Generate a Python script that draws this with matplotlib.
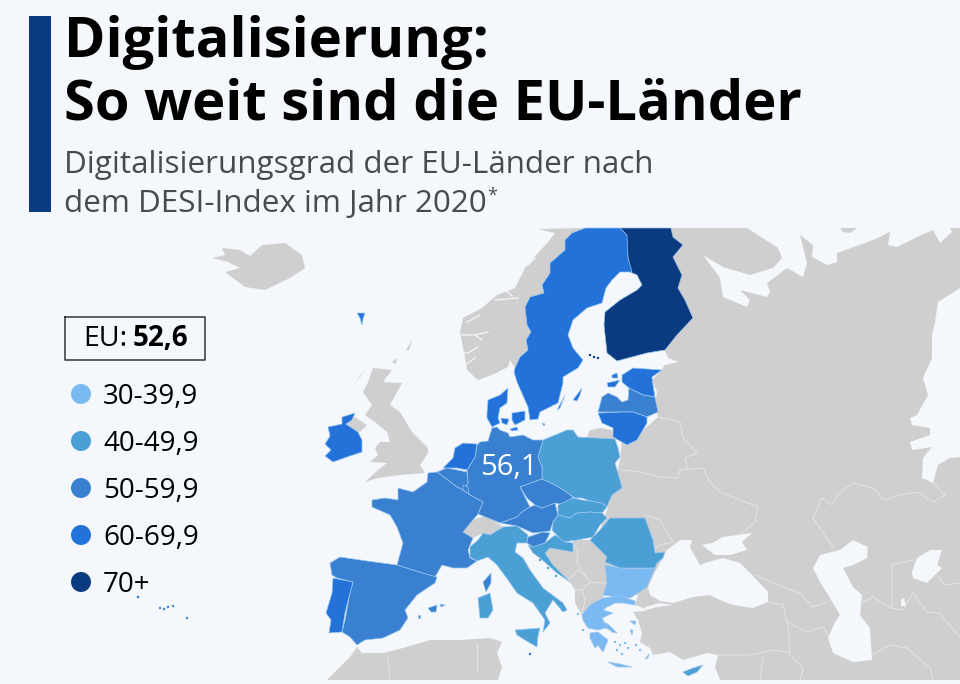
import matplotlib
matplotlib.use('Agg')
import matplotlib.pyplot as plt

BG = '#f4f8fc'
GRAY = '#cfcfcf'
GRAY_LINE = '#e2e4e6'
EU_LINE = '#9cc6ee'

# legend
bin_labels = ['30-39,9', '40-49,9', '50-59,9', '60-69,9', '70+']
bin_lower = [30, 40, 50, 60, 70]
bin_colors = ['#7ab9f1', '#4a9fd5', '#3a80d0', '#2272d9', '#0a3a80']

# DESI values, only Germany and the EU mean are printed, the rest sit inside the visible class
eu_mean = '52,6'
de_label = '56,1'
desi = {'FI': 72.3, 'SE': 69.7, 'DK': 69.1, 'NL': 67.7, 'IE': 61.8, 'EE': 61.1, 'LT': 60.5, 'PT': 60.2, 'MT': 62.7,
        'DE': 56.1, 'FR': 52.2, 'ES': 57.5, 'BE': 58.7, 'LU': 56.0, 'AT': 54.3, 'CZ': 50.8, 'LV': 50.7, 'SI': 51.2,
        'PL': 45.0, 'IT': 43.6, 'RO': 40.0, 'HU': 47.5, 'SK': 45.2, 'HR': 47.5, 'CY': 44.0, 'GR': 37.3, 'BG': 36.4}

# outlines, in pixels of the map image
fi = [(620, 228), (671, 228), (673, 237), (683, 245), (673, 257), (682, 275), (678, 288), (685, 300), (693, 318), (677, 335),
      (665, 350), (647, 353), (617, 361), (607, 353), (604, 325), (605, 312), (620, 300), (637, 290), (642, 285), (637, 275),
      (630, 272), (628, 258), (625, 235)]
se = [(585, 228), (620, 228), (627, 235), (628, 258), (632, 272), (620, 272), (612, 280), (606, 288), (602, 303), (587, 308),
      (573, 320), (568, 335), (573, 348), (583, 360), (578, 368), (563, 377), (563, 383), (558, 403), (540, 412), (538, 419),
      (530, 420), (528, 407), (517, 382), (514, 372), (515, 368), (520, 357), (528, 350), (526, 340), (531, 332), (527, 325),
      (525, 307), (530, 297), (544, 293), (542, 285), (550, 273), (550, 263), (565, 250), (565, 240), (572, 233)]
se_gotland = [(573, 400), (582, 388), (580, 395), (577, 401)]
se_oland = [(557, 410), (565, 395), (560, 408)]
dk = [(487, 413), (488, 400), (500, 395), (508, 388), (507, 403), (500, 408), (498, 418), (500, 423), (492, 427), (487, 418)]
dk_zealand = [(512, 413), (525, 411), (525, 420), (515, 425), (512, 420)]
dk_funen = [(501, 418), (509, 419), (507, 425), (502, 423)]
dk_lolland = [(510, 429), (517, 427), (518, 430), (512, 431)]
dk_bornholm = [(542, 423), (545, 424), (544, 426)]
dk_faroe = [(357, 313), (365, 313), (363, 319), (362, 325), (360, 318)]
ie = [(328, 427), (342, 424), (342, 417), (355, 413), (352, 420), (346, 424), (358, 432), (362, 440), (362, 452), (350, 456),
      (333, 462), (325, 456), (331, 450), (325, 444), (330, 436)]
ee = [(622, 375), (633, 368), (662, 370), (652, 377), (653, 385), (655, 397), (643, 395), (629, 388), (622, 382)]
ee_saare = [(607, 383), (620, 380), (615, 387), (608, 387)]
ee_hiiu = [(612, 375), (617, 373), (618, 378), (612, 378)]
lv = [(598, 412), (602, 397), (608, 393), (617, 397), (622, 402), (628, 400), (629, 388), (643, 395), (655, 397), (658, 412),
      (647, 417), (633, 412), (623, 412)]
lt = [(598, 413), (623, 412), (633, 412), (647, 417), (647, 423), (637, 440), (627, 445), (613, 437), (613, 428), (602, 423)]
pl = [(543, 440), (567, 430), (573, 430), (578, 437), (615, 439), (618, 448), (620, 457), (615, 463), (620, 480), (622, 488),
      (612, 495), (607, 507), (602, 503), (590, 501), (582, 498), (575, 498), (570, 495), (563, 490), (555, 485), (542, 479),
      (542, 467), (538, 457)]
de = [(492, 428), (497, 427), (500, 430), (508, 433), (510, 437), (523, 435), (533, 440), (543, 440), (538, 457), (542, 467),
      (542, 479), (520, 487), (530, 507), (522, 512), (517, 517), (500, 523), (493, 520), (478, 514), (483, 502), (470, 495),
      (463, 490), (468, 483), (467, 470), (475, 457), (477, 445), (480, 442), (488, 441)]
nl = [(443, 468), (453, 458), (455, 448), (463, 443), (477, 444), (475, 457), (467, 470), (457, 468)]
be = [(437, 472), (447, 468), (467, 472), (468, 483), (463, 490), (457, 487)]
lu = [(463, 485), (468, 487), (469, 494), (463, 490)]
fr = [(428, 473), (437, 472), (457, 487), (463, 490), (470, 495), (483, 502), (478, 514), (463, 532), (473, 538), (468, 550),
      (470, 558), (477, 561), (467, 568), (453, 568), (442, 565), (435, 577), (422, 573), (397, 565), (403, 543), (397, 527),
      (390, 515), (372, 507), (372, 500), (385, 498), (398, 500), (398, 488), (413, 492), (427, 482)]
fr_corsica = [(483, 582), (491, 573), (491, 583), (486, 592)]
es = [(330, 563), (340, 557), (367, 561), (397, 565), (422, 573), (437, 577), (435, 583), (417, 595), (405, 610), (408, 618),
      (400, 630), (383, 638), (365, 640), (357, 645), (350, 637), (342, 632), (345, 620), (350, 593), (353, 582), (337, 578),
      (332, 575)]
es_mallorca = [(428, 608), (437, 605), (436, 612), (431, 612)]
es_menorca = [(440, 604), (445, 605), (441, 607)]
es_ibiza = [(418, 615), (420, 615), (420, 618), (418, 618)]
pt = [(333, 578), (353, 582), (350, 593), (345, 613), (342, 632), (329, 633), (331, 620), (326, 613), (332, 593)]
it = [(470, 547), (478, 540), (483, 533), (490, 535), (503, 527), (517, 526), (528, 535), (527, 543), (517, 543), (515, 552),
      (523, 558), (530, 570), (543, 588), (563, 603), (567, 610), (563, 612), (553, 600), (545, 613), (550, 623), (543, 632),
      (545, 620), (533, 603), (517, 593), (508, 580), (497, 565), (488, 557), (477, 561), (470, 557)]
it_sicily = [(515, 630), (540, 628), (538, 636), (537, 647), (525, 640), (517, 635)]
it_sardinia = [(478, 598), (490, 593), (493, 610), (488, 618), (480, 618)]
at = [(500, 523), (517, 517), (522, 512), (530, 507), (535, 505), (542, 508), (555, 503), (558, 515), (553, 522), (550, 531),
      (533, 533), (517, 526)]
cz = [(520, 487), (542, 479), (555, 485), (563, 490), (573, 497), (565, 505), (555, 503), (542, 508), (535, 505), (527, 498)]
sk = [(558, 505), (573, 498), (582, 500), (590, 501), (602, 503), (607, 507), (602, 513), (590, 512), (577, 513), (570, 518),
      (558, 515)]
hu = [(558, 515), (570, 518), (577, 513), (590, 512), (602, 513), (607, 518), (600, 525), (593, 537), (577, 540), (563, 542),
      (552, 530), (553, 522)]
si = [(528, 537), (543, 532), (550, 533), (545, 543), (533, 547), (527, 543)]
hr = [(545, 543), (555, 535), (565, 542), (573, 543), (573, 552), (550, 548), (545, 553), (553, 565), (570, 582), (557, 573),
      (540, 558), (533, 553), (528, 545), (533, 547)]
ro = [(600, 530), (610, 518), (645, 518), (653, 540), (655, 553), (665, 552), (663, 558), (657, 563), (655, 568), (633, 568),
      (620, 568), (605, 562), (607, 557), (590, 540)]
bg = [(605, 565), (620, 568), (633, 569), (655, 568), (647, 587), (638, 593), (630, 598), (617, 597), (603, 595), (607, 583)]
gr = [(582, 615), (590, 605), (603, 598), (620, 596), (635, 601), (635, 605), (623, 603), (615, 603), (607, 607), (603, 610), (613, 613),
      (602, 618), (605, 623), (615, 632), (605, 628), (598, 630), (588, 628), (583, 620)]
gr_pelop = [(590, 633), (598, 632), (608, 640), (603, 652), (598, 645), (595, 648), (590, 638)]
gr_evia = [(603, 622), (608, 624), (617, 633), (612, 632)]
gr_crete = [(608, 662), (620, 664), (632, 667), (617, 667)]
gr_lesbos = [(630, 621), (636, 621), (635, 625)]
gr_chios = [(630, 630), (633, 630), (632, 635)]
gr_rhodes = [(645, 659), (649, 654), (648, 658)]
cy = [(683, 672), (693, 668), (703, 665), (697, 672), (688, 676)]

eu_shapes = [('FI', fi), ('SE', se), ('SE', se_gotland), ('SE', se_oland), ('DK', dk), ('DK', dk_zealand), ('DK', dk_funen),
             ('DK', dk_lolland), ('DK', dk_bornholm), ('DK', dk_faroe), ('IE', ie), ('EE', ee), ('EE', ee_saare),
             ('EE', ee_hiiu), ('LV', lv), ('LT', lt), ('PL', pl), ('DE', de), ('NL', nl), ('BE', be), ('LU', lu), ('FR', fr),
             ('FR', fr_corsica), ('ES', es), ('ES', es_mallorca), ('ES', es_menorca), ('ES', es_ibiza), ('PT', pt),
             ('IT', it), ('IT', it_sicily), ('IT', it_sardinia), ('AT', at), ('CZ', cz), ('SK', sk), ('HU', hu), ('SI', si),
             ('HR', hr), ('RO', ro), ('BG', bg), ('GR', gr), ('GR', gr_pelop), ('GR', gr_evia), ('GR', gr_crete),
             ('GR', gr_lesbos), ('GR', gr_chios), ('GR', gr_rhodes), ('CY', cy)]

# tiny islands, drawn as dots
small_x = [138, 160, 164, 168, 173, 187, 530, 590, 594, 598, 578, 583, 615, 620, 625, 617, 628, 622, 636, 640, 534, 540, 548, 556]
small_y = [597, 608, 609, 607, 606, 618, 654, 355, 357, 358, 614, 630, 642, 645, 643, 650, 648, 654, 645, 650, 552, 560, 568, 576]
small_country = ['PT', 'ES', 'ES', 'ES', 'ES', 'ES', 'MT', 'FI', 'FI', 'FI', 'GR', 'GR', 'GR', 'GR', 'GR', 'GR', 'GR', 'GR',
                 'GR', 'GR', 'HR', 'HR', 'HR', 'HR']

# non EU land
iceland = [(212, 258), (225, 255), (222, 248), (240, 250), (250, 256), (262, 245), (285, 243), (302, 255), (305, 268), (290, 278),
           (265, 290), (245, 287), (225, 272), (240, 268), (228, 262)]
norway = [(538, 229), (585, 228), (572, 233), (565, 240), (565, 250), (550, 263), (550, 273), (542, 285), (544, 293), (530, 297),
          (525, 307), (527, 325), (531, 332), (526, 340), (528, 350), (520, 357), (515, 368), (510, 360), (508, 367), (492, 375),
          (478, 380), (467, 370), (465, 358), (460, 332), (463, 318), (482, 308), (497, 295), (515, 288), (525, 268), (538, 253),
          (548, 242), (555, 233)]
britain = [(373, 368), (392, 370), (383, 382), (402, 383), (390, 405), (400, 412), (412, 432), (428, 448), (428, 453), (420, 465),
           (425, 473), (400, 475), (378, 478), (365, 482), (378, 470), (387, 463), (370, 462), (378, 455), (375, 448), (380, 442),
           (390, 442), (387, 432), (375, 422), (365, 415), (372, 405), (363, 392), (368, 382)]
n_ireland = [(347, 423), (355, 417), (367, 425), (360, 432), (351, 430)]
hebrides = [(352, 392), (358, 378), (365, 370), (356, 382)]
orkney = [(392, 362), (397, 358), (396, 364)]
shetland = [(406, 350), (412, 340), (409, 350)]
swiss = [(463, 532), (473, 520), (487, 515), (493, 520), (503, 527), (490, 535), (483, 533), (473, 538)]
balkans = [(548, 548), (573, 543), (573, 538), (583, 540), (590, 540), (607, 557), (605, 565), (607, 583), (603, 598), (590, 605),
           (582, 615), (575, 603), (575, 590), (570, 582), (553, 565), (545, 553)]
kaliningrad = [(587, 437), (590, 430), (600, 428), (612, 430), (615, 440), (587, 440)]
africa = [(327, 680), (350, 657), (357, 647), (362, 653), (383, 653), (403, 648), (430, 640), (460, 640), (490, 638), (502, 642),
          (497, 653), (502, 667), (498, 680)]
barents_island = [(840, 228), (857, 228), (850, 233), (843, 232)]
east = [(671, 228), (960, 228), (960, 680), (720, 680), (715, 667), (718, 655), (707, 653), (683, 660), (670, 652), (653, 655),
        (650, 648), (640, 642), (642, 633), (638, 620), (633, 612), (645, 611), (643, 608), (635, 605), (638, 595), (620, 590),
        (605, 565), (600, 530), (607, 510), (612, 495), (620, 460), (622, 440), (640, 433), (658, 417), (655, 405), (657, 392),
        (652, 380), (662, 370), (664, 365), (678, 362), (668, 358), (664, 351), (660, 300)]
gray_land = [iceland, norway, britain, n_ireland, hebrides, orkney, shetland, swiss, balkans, kaliningrad, africa, east]

# water on top of the eastern block
barents = [(747, 228), (778, 248), (782, 258), (773, 268), (750, 275), (723, 267), (703, 255), (720, 278), (723, 297), (747, 307),
           (750, 300), (740, 290), (767, 297), (770, 292), (767, 283), (787, 268), (803, 277), (807, 263), (800, 235), (813, 245),
           (812, 257), (827, 265), (837, 262), (837, 253), (873, 240), (890, 232), (888, 245), (897, 247), (917, 237), (933, 230),
           (940, 243), (952, 232), (950, 228)]
caspian = [(813, 568), (820, 555), (840, 550), (853, 540), (868, 547), (867, 558), (853, 565), (843, 568), (853, 587), (862, 595),
           (860, 615), (870, 628), (872, 660), (853, 662), (833, 653), (828, 638), (835, 622), (840, 615), (830, 598), (820, 582)]
aral = [(912, 572), (917, 558), (930, 550), (942, 550), (937, 565), (942, 568), (927, 583), (913, 578)]
aral_small = [(901, 600), (904, 598), (906, 606), (901, 606)]
siberia = [(960, 288), (938, 302), (935, 322), (932, 335), (932, 358), (923, 378), (928, 395), (917, 415), (910, 418), (912, 425),
           (930, 428), (930, 435), (910, 442), (912, 450), (932, 447), (923, 458), (922, 478), (933, 483), (938, 465), (950, 458),
           (960, 457)]
black_sea = [(648, 587), (655, 572), (667, 550), (680, 540), (692, 540), (690, 547), (693, 553), (700, 565), (708, 562), (723, 558),
             (740, 563), (755, 578), (768, 592), (768, 602), (753, 608), (733, 605), (720, 600), (710, 595), (693, 597), (673, 603),
             (660, 601), (650, 595)]
azov = [(702, 545), (712, 543), (723, 537), (752, 533), (742, 542), (747, 550), (730, 555), (715, 555)]
marmara = [(645, 607), (660, 603), (673, 605), (657, 607), (643, 611)]
gulf = [(617, 362), (665, 351), (668, 358), (678, 362), (664, 365), (662, 370), (633, 368), (622, 375)]
waters = [barents, caspian, aral, aral_small, siberia, black_sea, azov, marmara, gulf]
land_on_water = [barents_island]

fjords = [
    [(462, 335), (475, 335), (488, 332)],
    [(475, 335), (482, 340)],
    [(462, 353), (468, 353), (478, 347)],
    [(465, 365), (475, 358)],
    [(467, 322), (480, 315)],
    [(495, 300), (518, 298)],
    [(505, 290), (512, 296)],
    [(528, 265), (535, 258)],
]

# borders between the grey countries
gray_borders = [
    [(658, 417), (680, 422), (683, 438), (697, 453), (685, 458), (688, 470)],
    [(622, 470), (640, 472), (660, 477), (677, 478), (680, 470), (703, 468), (710, 482), (720, 492), (740, 500), (758, 507),
     (755, 522), (742, 533)],
    [(645, 515), (660, 520), (673, 542), (660, 545), (653, 550)],
    [(933, 483), (945, 495), (933, 502), (917, 492), (900, 495), (885, 500), (873, 488), (853, 483), (837, 495), (832, 505),
     (822, 498), (813, 518), (823, 533), (833, 547)],
    [(755, 575), (783, 587), (800, 593), (813, 607), (827, 602)],
    [(768, 602), (783, 605), (787, 622), (807, 632), (823, 627), (830, 638)],
    [(788, 625), (790, 655), (803, 668), (800, 680)],
    [(718, 655), (750, 655), (773, 650), (790, 653)],
    [(763, 658), (760, 680)],
    [(863, 602), (873, 597), (890, 608), (903, 610), (913, 593), (927, 612), (940, 613), (960, 638)],
    [(892, 608), (892, 565), (913, 560)],
    [(937, 575), (945, 585), (960, 583)],
    [(872, 655), (890, 645), (907, 648), (930, 668), (933, 680)],
    [(388, 657), (390, 680)],
    [(477, 643), (477, 673)],
    [(573, 543), (578, 552), (577, 563), (585, 575)],
    [(568, 580), (578, 570), (585, 575), (590, 582), (605, 583)],
    [(575, 590), (582, 590), (585, 600), (582, 615)],
    [(582, 590), (590, 582)],
]


def bin_color(value):
    color = bin_colors[0]
    for low, c in zip(bin_lower, bin_colors):
        if value >= low:
            color = c
    return color


plt.rcParams['font.family'] = ['Open Sans', 'DejaVu Sans']
fig = plt.figure(figsize=(9.6, 6.84), dpi=100, facecolor=BG)
ax = fig.add_axes([0, 0, 1, 1])
ax.set_xlim(0, 960)
ax.set_ylim(684, 0)
ax.axis('off')

for shape in gray_land:
    ax.fill(*zip(*shape), color=GRAY, lw=0, zorder=1)
for line in gray_borders:
    ax.plot(*zip(*line), color=GRAY_LINE, lw=0.7, zorder=2)
for shape in waters:
    ax.fill(*zip(*shape), color=BG, lw=0, zorder=3)
for shape in land_on_water:
    ax.fill(*zip(*shape), color=GRAY, lw=0, zorder=3)
for line in fjords:
    ax.plot(*zip(*line), color=BG, lw=0.9, zorder=3)
for code, shape in eu_shapes:
    ax.fill(*zip(*shape), facecolor=bin_color(desi[code]), edgecolor=EU_LINE, lw=0.5, zorder=4)
ax.scatter(small_x, small_y, s=3, c=[bin_color(desi[c]) for c in small_country], lw=0, zorder=4)

ax.text(480, 475, de_label, color='white', fontsize=21, va='baseline', ha='left', zorder=6)

# header
ax.fill_between([29, 51], 16, 212, color='#0a3a80', lw=0)
ax.text(64, 57, 'Digitalisierung:', fontsize=40.4, fontweight='bold', color='#000000', va='baseline')
ax.text(64, 120, 'So weit sind die EU-Länder', fontsize=40.4, fontweight='bold', color='#000000', va='baseline')
ax.text(64, 173, 'Digitalisierungsgrad der EU-Länder nach', fontsize=22.6, color='#444c4c', va='baseline')
ax.text(64, 212, 'dem DESI-Index im Jahr 2020', fontsize=22.6, color='#444c4c', va='baseline')
ax.text(487, 201, '*', fontsize=13, color='#444c4c', va='baseline')

# legend
ax.plot([64.5, 204.5, 204.5, 64.5, 64.5], [317, 317, 359.5, 359.5, 317], color='#333333', lw=1.1, zorder=5)
ax.text(83, 346, 'EU:', fontsize=20.5, color='#000000', va='baseline')
ax.text(133, 346, eu_mean, fontsize=20, fontweight='bold', color='#000000', va='baseline')
legend_y = [394, 441, 488, 535, 582]
ax.scatter([81] * 5, legend_y, s=207, c=bin_colors, lw=0, zorder=5)
for y, label in zip(legend_y, bin_labels):
    ax.text(103, y + 10, label, fontsize=20, color='#000000', va='baseline', zorder=5)

fig.savefig('out.png', dpi=100, facecolor=BG)
